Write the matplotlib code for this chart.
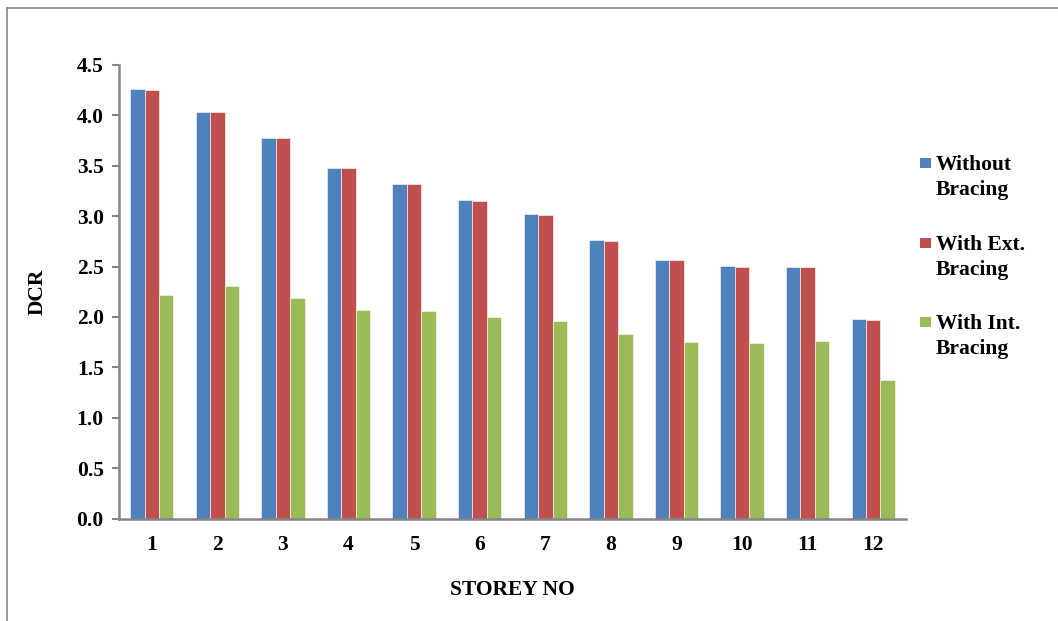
import matplotlib
matplotlib.use("Agg")
import matplotlib.pyplot as plt
import numpy as np
from matplotlib.lines import Line2D
from matplotlib.patches import Rectangle

storeys = ["1", "2", "3", "4", "5", "6", "7", "8", "9", "10", "11", "12"]
without_bracing = [4.26, 4.03, 3.78, 3.48, 3.32, 3.16, 3.02, 2.76, 2.57, 2.51, 2.50, 1.98]
ext_bracing = [4.25, 4.03, 3.78, 3.48, 3.32, 3.15, 3.01, 2.75, 2.57, 2.50, 2.50, 1.97]
int_bracing = [2.22, 2.31, 2.19, 2.07, 2.06, 2.00, 1.96, 1.83, 1.75, 1.74, 1.76, 1.37]
series_labels = ["Without\nBracing", "With Ext.\nBracing", "With Int.\nBracing"]
colors = ["#4F81BD", "#C0504D", "#9BBB59"]
yticks = [0.0, 0.5, 1.0, 1.5, 2.0, 2.5, 3.0, 3.5, 4.0, 4.5]

plt.rcParams['font.family'] = ['Liberation Serif', 'DejaVu Serif']
plt.rcParams['font.weight'] = 'bold'
FS = 15.5
W, H = 1058, 621

fig = plt.figure(figsize=(10.58, 6.21), dpi=100)
ax = fig.add_axes([119/W, 1-518.5/H, (906-119)/W, (518.5-65)/H])

x = np.arange(len(storeys))
w = 0.22
data = [without_bracing, ext_bracing, int_bracing]
for i, (vals, c, lab) in enumerate(zip(data, colors, series_labels)):
    ax.bar(x + (i-1)*w, vals, width=w, color=c, edgecolor='white', linewidth=0.4, label=lab, zorder=2)

ax.set_xlim(-0.5, len(storeys)-0.5)
ax.set_ylim(0, 4.5)
ax.set_yticks(yticks)
ax.set_yticklabels([f"{v:.1f}" for v in yticks], fontsize=FS, fontweight='bold')
ax.set_xticks(x)
ax.set_xticklabels(storeys, fontsize=FS, fontweight='bold')
ax.tick_params(axis='x', length=0, pad=12)
ax.tick_params(axis='y', length=5, width=1.5, color='#868686', pad=6, direction='out')
for s in ['top', 'right']:
    ax.spines[s].set_visible(False)
for s in ['left', 'bottom']:
    ax.spines[s].set_color('#868686')
    ax.spines[s].set_linewidth(1.8)

ax.set_ylabel("DCR", fontsize=FS, fontweight='bold', labelpad=21)
ax.set_xlabel("STOREY NO", fontsize=FS, fontweight='bold', labelpad=18)

# legend (manual, square aligned with first text line)
entry_y = [163, 243, 322]
for lab, c, yy in zip(series_labels, colors, entry_y):
    fig.add_artist(Rectangle((920/W, 1-(yy+5)/H), 11/W, 10.5/H, transform=fig.transFigure,
                             facecolor=c, edgecolor='none'))
    fig.text(936/W, 1-(yy-8)/H, lab, fontsize=FS, fontweight='bold', va='top', ha='left',
             linespacing=1.35)

# outer chart frame (top and left edges visible)
fig.add_artist(Line2D([7/W, 1], [1-8/H, 1-8/H], transform=fig.transFigure, color='#868686', lw=1.2))
fig.add_artist(Line2D([7/W, 7/W], [0, 1-8/H], transform=fig.transFigure, color='#868686', lw=1.2))

fig.savefig("out.png", dpi=100)
